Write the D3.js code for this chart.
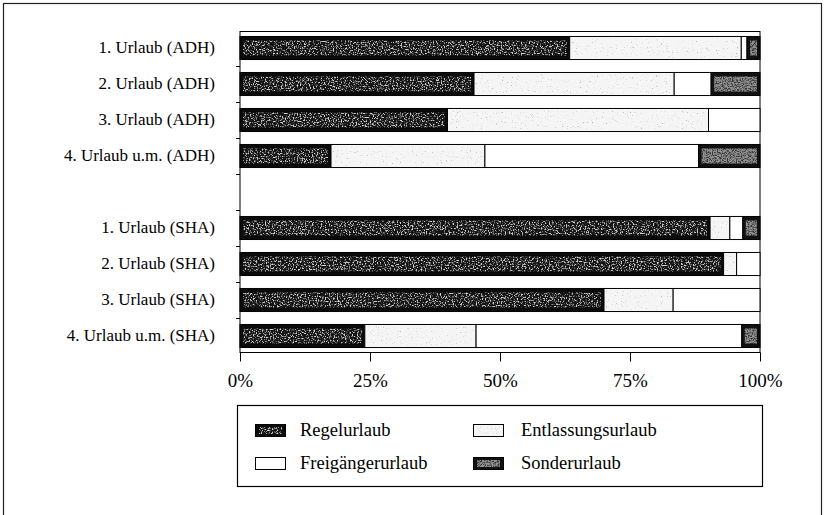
<!DOCTYPE html>
<html>
<head>
<meta charset="utf-8">
<script src="https://cdn.jsdelivr.net/npm/d3@7"></script>
<style>
  html, body { margin: 0; padding: 0; background: #fff; }
  svg { display: block; }
  text { font-family: "Liberation Serif", "Times New Roman", serif; fill: #000; }
</style>
</head>
<body>
<script>
// Urlaubsarten je Urlaubsnummer, Anteile in Prozent
const categoriesADH = ["1. Urlaub (ADH)", "2. Urlaub (ADH)", "3. Urlaub (ADH)", "4. Urlaub u.m. (ADH)"];
const categoriesSHA = ["1. Urlaub (SHA)", "2. Urlaub (SHA)", "3. Urlaub (SHA)", "4. Urlaub u.m. (SHA)"];
const categories = [...categoriesADH, ...categoriesSHA];

const seriesNames = ["Regelurlaub", "Entlassungsurlaub", "Freigängerurlaub", "Sonderurlaub"];
const regelurlaub       = [63.4, 45.0, 39.9, 17.5, 90.4, 93.0, 70.0, 24.0];
const entlassungsurlaub = [33.0, 38.5, 50.2, 29.6, 3.8, 2.5, 13.3, 21.4];
const freigaengerurlaub = [1.1, 7.1, 9.9, 41.1, 2.5, 4.5, 16.7, 51.1];
const sonderurlaub      = [2.5, 9.4, 0.0, 11.8, 3.3, 0.0, 0.0, 3.5];

const tickValues = [0, 25, 50, 75, 100];

const W = 825, H = 515;
const svg = d3.select("body").append("svg").attr("width", W).attr("height", H);

// ---- texture filters for the fills ----
const defs = svg.append("defs");
function grain(id, freq, seed, r, g, b, k, t) {
  const f = defs.append("filter").attr("id", id)
    .attr("x", 0).attr("y", 0).attr("width", 1).attr("height", 1)
    .attr("color-interpolation-filters", "sRGB");
  f.append("feTurbulence").attr("type", "fractalNoise")
    .attr("baseFrequency", freq).attr("numOctaves", 2).attr("seed", seed).attr("result", "noise");
  f.append("feColorMatrix").attr("in", "noise").attr("type", "matrix")
    .attr("values", `0 0 0 0 ${r}  0 0 0 0 ${g}  0 0 0 0 ${b}  ${k} 0 0 0 ${-k * t}`)
    .attr("result", "dots");
  f.append("feComposite").attr("in", "dots").attr("in2", "SourceAlpha")
    .attr("operator", "in").attr("result", "dotsIn");
  const m = f.append("feMerge");
  m.append("feMergeNode").attr("in", "SourceGraphic");
  m.append("feMergeNode").attr("in", "dotsIn");
}
grain("grainRegel", 0.75, 3, 0.82, 0.82, 0.82, 5, 0.5);
grain("grainEntl", 0.8, 7, 0.6, 0.6, 0.6, 4, 0.66);
grain("grainSonder", 0.8, 11, 0.58, 0.58, 0.58, 4, 0.33);

const styles = {
  "Regelurlaub":       { fill: "#0b0b0b", inner: "#141414", filter: "url(#grainRegel)", inset: [3, 4] },
  "Entlassungsurlaub": { fill: "#f5f5f5", inner: "#f5f5f5", filter: "url(#grainEntl)", inset: [2, 2] },
  "Freigängerurlaub":  { fill: "#ffffff", inner: null, filter: null, inset: [0, 0] },
  "Sonderurlaub":      { fill: "#111111", inner: "#333333", filter: "url(#grainSonder)", inset: [3, 4] }
};

// ---- outer frame ----
svg.append("rect").attr("x", 3.5).attr("y", 3.5).attr("width", 818).attr("height", 520)
  .attr("fill", "none").attr("stroke", "#222").attr("stroke-width", 1.2);

// ---- scales ----
const slots = [...categoriesADH, "__gap__", ...categoriesSHA];
const x = d3.scaleLinear().domain([0, 100]).range([240, 760]);
const y = d3.scaleBand().domain(slots).range([30, 354]).paddingInner(0.36).paddingOuter(0.18);

const plotTop = 31.5, plotBottom = 352.5;

// stacked data
const table = categories.map((c, i) => ({
  cat: c,
  "Regelurlaub": regelurlaub[i],
  "Entlassungsurlaub": entlassungsurlaub[i],
  "Freigängerurlaub": freigaengerurlaub[i],
  "Sonderurlaub": sonderurlaub[i]
}));
const stacked = d3.stack().keys(seriesNames)(table);

// plot frame
svg.append("rect").attr("x", x(0)).attr("y", plotTop)
  .attr("width", x(100) - x(0)).attr("height", plotBottom - plotTop)
  .attr("fill", "none").attr("stroke", "#000").attr("stroke-width", 1);

// bars
const layers = svg.append("g").selectAll("g").data(stacked).join("g");
layers.each(function(layer) {
  const st = styles[layer.key];
  const g = d3.select(this);
  const segs = layer.filter(d => d[1] - d[0] > 0);
  g.selectAll("rect.seg").data(segs).join("rect").attr("class", "seg")
    .attr("x", d => x(d[0]))
    .attr("y", d => y(d.data.cat))
    .attr("width", d => x(d[1]) - x(d[0]))
    .attr("height", y.bandwidth())
    .attr("fill", st.fill)
    .attr("stroke", "#000").attr("stroke-width", 1);
  if (st.filter) {
    const [ix, iy] = st.inset;
    g.selectAll("rect.tex").data(segs.filter(d => x(d[1]) - x(d[0]) > 2 * ix + 2)).join("rect").attr("class", "tex")
      .attr("x", d => x(d[0]) + ix)
      .attr("y", d => y(d.data.cat) + iy)
      .attr("width", d => x(d[1]) - x(d[0]) - 2 * ix)
      .attr("height", y.bandwidth() - 2 * iy)
      .attr("fill", st.inner)
      .attr("filter", st.filter);
  }
});

// x axis
const xAxis = d3.axisBottom(x).tickValues(tickValues).tickFormat(d => d + "%")
  .tickSize(9).tickPadding(12);
const gx = svg.append("g").attr("transform", `translate(0,${plotBottom})`).call(xAxis);
gx.select(".domain").remove();
gx.selectAll("line").attr("stroke", "#000");
gx.selectAll("text").attr("font-size", 19).attr("font-family", "Liberation Serif, serif").attr("fill", "#000");

// y axis: category labels, small ticks at slot borders
const labelAxis = d3.axisLeft(y).tickValues(categories).tickSize(0).tickPadding(25);
const gy = svg.append("g").attr("transform", `translate(${x(0)},0)`).call(labelAxis);
gy.select(".domain").remove();
gy.selectAll("text").attr("font-size", 17).attr("font-family", "Liberation Serif, serif").attr("fill", "#000");

const borders = d3.range(1, slots.length).map(i => y.range()[0] + i * y.step());
svg.append("g").selectAll("line").data(borders).join("line")
  .attr("x1", x(0) - 4).attr("x2", x(0))
  .attr("y1", d => Math.round(d) + 0.5).attr("y2", d => Math.round(d) + 0.5)
  .attr("stroke", "#000");

// ---- legend ----
const legend = svg.append("g");
legend.append("rect").attr("x", 237.5).attr("y", 405.5).attr("width", 525).attr("height", 81)
  .attr("fill", "none").attr("stroke", "#000").attr("stroke-width", 1.2);

const legendPos = [
  { key: "Regelurlaub",       sx: 255, tx: 300, sy: 424 },
  { key: "Entlassungsurlaub", sx: 473, tx: 521, sy: 424 },
  { key: "Freigängerurlaub",  sx: 255, tx: 300, sy: 457 },
  { key: "Sonderurlaub",      sx: 473, tx: 521, sy: 457 }
];
legendPos.forEach(p => {
  const st = styles[p.key];
  legend.append("rect").attr("x", p.sx + 0.5).attr("y", p.sy + 0.5).attr("width", 30).attr("height", 12)
    .attr("fill", st.fill).attr("stroke", "#000").attr("stroke-width", 1);
  if (st.filter) {
    legend.append("rect").attr("x", p.sx + 4).attr("y", p.sy + 3).attr("width", 23).attr("height", 7)
      .attr("fill", st.inner).attr("filter", st.filter);
  }
  legend.append("text").attr("x", p.tx).attr("y", p.sy + 12)
    .attr("font-size", 18.5).text(p.key);
});
</script>
</body>
</html>
